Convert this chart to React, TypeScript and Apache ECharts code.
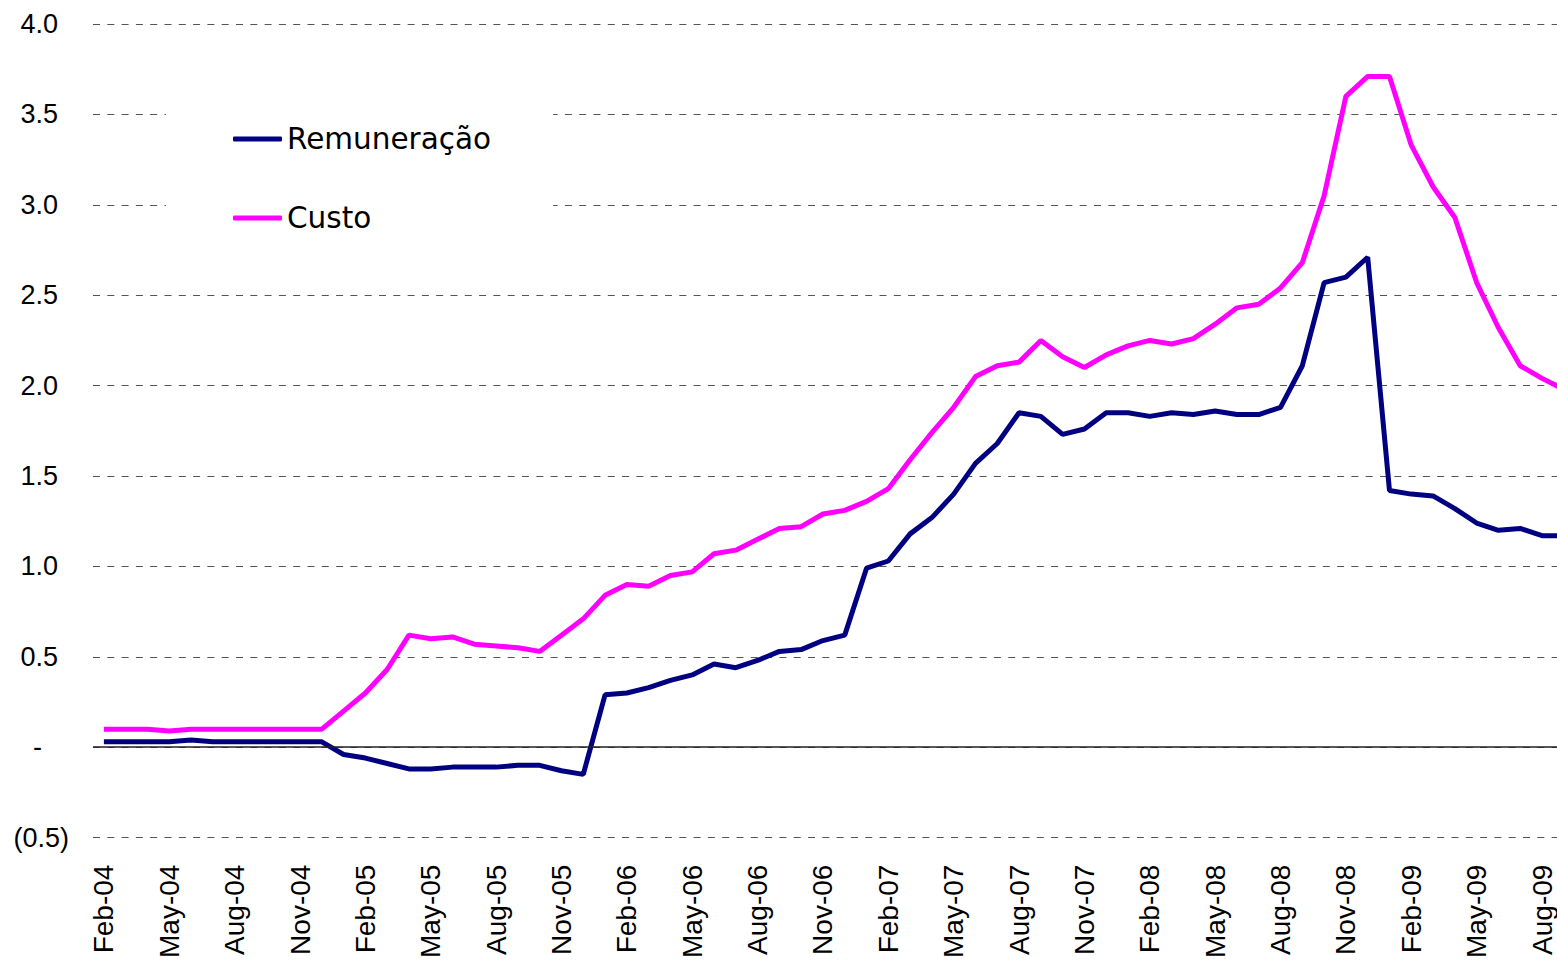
import React, { useEffect, useRef } from "react";
import * as echarts from "echarts";

const monthNames = ["Jan", "Feb", "Mar", "Apr", "May", "Jun", "Jul", "Aug", "Sep", "Oct", "Nov", "Dec"];
const years = ["04", "05", "06", "07", "08", "09"];
// Feb-04 .. Sep-09
const categories: string[] = [];
years.forEach((y, yi) => {
  monthNames.forEach((m, mi) => {
    if (yi === 0 && mi < 1) return;
    if (yi === years.length - 1 && mi > 8) return;
    categories.push(`${m}-${y}`);
  });
});

const remuneracao = [
  0.03, 0.03, 0.03, 0.03, 0.04, 0.03, 0.03, 0.03, 0.03, 0.03, 0.03, -0.04,
  -0.06, -0.09, -0.12, -0.12, -0.11, -0.11, -0.11, -0.1, -0.1, -0.13, -0.15, 0.29,
  0.3, 0.33, 0.37, 0.4, 0.46, 0.44, 0.48, 0.53, 0.54, 0.59, 0.62, 0.99,
  1.03, 1.18, 1.27, 1.4, 1.57, 1.68, 1.85, 1.83, 1.73, 1.76, 1.85, 1.85,
  1.83, 1.85, 1.84, 1.86, 1.84, 1.84, 1.88, 2.11, 2.57, 2.6, 2.71, 1.42,
  1.4, 1.39, 1.32, 1.24, 1.2, 1.21, 1.17, 1.17,
];

const custo = [
  0.1, 0.1, 0.1, 0.09, 0.1, 0.1, 0.1, 0.1, 0.1, 0.1, 0.1, 0.2,
  0.3, 0.43, 0.62, 0.6, 0.61, 0.57, 0.56, 0.55, 0.53, 0.62, 0.71, 0.84,
  0.9, 0.89, 0.95, 0.97, 1.07, 1.09, 1.15, 1.21, 1.22, 1.29, 1.31, 1.36,
  1.43, 1.59, 1.74, 1.88, 2.05, 2.11, 2.13, 2.25, 2.16, 2.1, 2.17, 2.22,
  2.25, 2.23, 2.26, 2.34, 2.43, 2.45, 2.54, 2.68, 3.05, 3.6, 3.71, 3.71,
  3.33, 3.1, 2.93, 2.57, 2.32, 2.11, 2.04, 1.98,
];

const seriesNames = ["Remuneração", "Custo"];

export default function App() {
  const ref = useRef<HTMLDivElement>(null);
  useEffect(() => {
    if (!ref.current) return;
    const chart = echarts.init(ref.current, undefined, { renderer: "svg" });
    const axisFont = "'Liberation Sans', Arial, sans-serif";
    chart.setOption({
      animation: false,
      backgroundColor: "#ffffff",
      grid: { left: 93, right: 25.3, top: 24, bottom: 120, containLabel: false },
      legend: {
        data: seriesNames,
        orient: "vertical",
        left: 166,
        top: 104,
        padding: [20, 62, 20, 67],
        backgroundColor: "#ffffff",
        icon: "roundRect",
        itemWidth: 49,
        itemHeight: 5,
        itemGap: 49,
        selectedMode: false,
        textStyle: {
          fontFamily: "'DejaVu Sans', Verdana, sans-serif",
          fontSize: 29.5,
          color: "#000",
        },
      },
      xAxis: {
        type: "category",
        data: categories,
        boundaryGap: true,
        axisLine: { show: false },
        axisTick: { show: false },
        splitLine: { show: false },
        axisLabel: {
          interval: 2,
          rotate: 90,
          margin: 27,
          fontSize: 28,
          fontFamily: axisFont,
          color: "#000",
        },
      },
      yAxis: {
        type: "value",
        min: -0.5,
        max: 4,
        interval: 0.5,
        axisLine: { show: false },
        axisTick: { show: false },
        splitLine: {
          show: true,
          lineStyle: { color: "#555", width: 1, type: [7, 7.3] },
        },
        axisLabel: {
          margin: 24,
          fontSize: 27,
          fontFamily: axisFont,
          color: "#000",
          formatter: (v: number) => {
            if (Math.abs(v) < 1e-9) return "{z|-}";
            if (v < 0) return `{n|(${Math.abs(v).toFixed(1)})}`;
            return `{p|${v.toFixed(1)}}`;
          },
          rich: {
            p: { fontSize: 27, fontFamily: axisFont, color: "#000", padding: [0, 11, 0, 0] },
            n: { fontSize: 27, fontFamily: axisFont, color: "#000" },
            z: { fontSize: 27, fontFamily: axisFont, color: "#000", padding: [0, 27, 0, 0] },
          },
        },
      },
      series: [
        {
          name: seriesNames[0],
          type: "line",
          data: remuneracao,
          z: 4,
          symbol: "none",
          smooth: false,
          lineStyle: { color: "#000080", width: 5 },
          itemStyle: { color: "#000080" },
          emphasis: { disabled: true },
        },
        {
          name: seriesNames[1],
          type: "line",
          data: custo,
          z: 3,
          symbol: "none",
          smooth: false,
          lineStyle: { color: "#FF00FF", width: 5 },
          itemStyle: { color: "#FF00FF" },
          emphasis: { disabled: true },
          markLine: {
            silent: true,
            symbol: ["none", "none"],
            label: { show: false },
            lineStyle: { color: "#222", width: 1.5, type: "solid" },
            data: [{ yAxis: 0 }],
          },
        },
      ],
    });
    return () => chart.dispose();
  }, []);

  return (
    <div
      style={{
        position: "fixed",
        left: 0,
        top: 0,
        width: 1557,
        height: 961,
        overflow: "hidden",
        background: "#fff",
      }}
    >
      <div ref={ref} style={{ width: 1600, height: 961 }} />
    </div>
  );
}
